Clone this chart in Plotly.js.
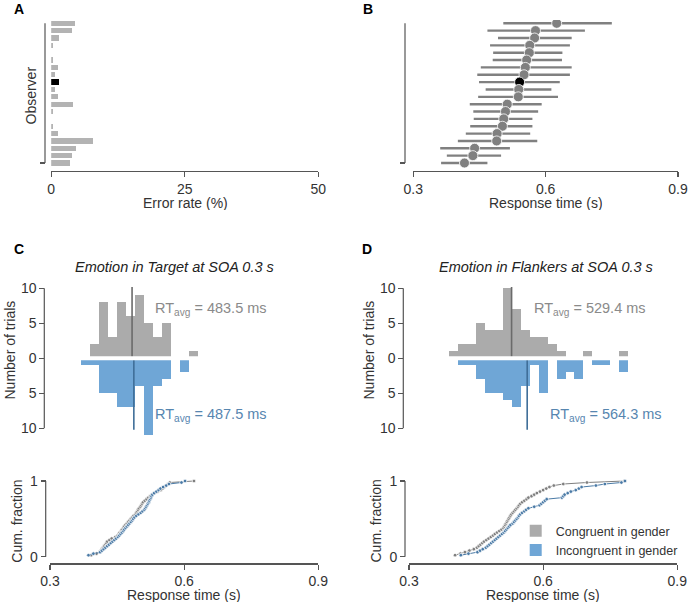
<!DOCTYPE html>
<html><head><meta charset="utf-8">
<script src="https://cdn.plot.ly/plotly-3.0.1.min.js"></script>
<style>html,body{margin:0;padding:0;background:#fff;overflow:hidden}#chart{width:690px;height:605px}</style>
</head><body><div id="chart"></div>
<script>
// ---------------- DATA ----------------
// Panel A / B: observers listed from top row to bottom row
const observers = [20,19,18,17,16,15,14,13,12,11,10,9,8,7,6,5,4,3,2,1];
const errorRate = [4.5,3.9,1.4,0.25,0,0.4,1.3,0.8,1.5,0.8,1.25,4.0,0.25,0,0.25,1.25,7.75,4.6,3.8,3.6];
const rtMean = [0.625,0.577,0.575,0.564,0.563,0.557,0.554,0.551,0.541,0.539,0.538,0.513,0.509,0.505,0.502,0.490,0.489,0.439,0.435,0.416];
const rtLow  = [0.504,0.468,0.492,0.474,0.481,0.480,0.453,0.445,0.449,0.464,0.447,0.428,0.436,0.437,0.429,0.419,0.401,0.361,0.376,0.363];
const rtHigh = [0.750,0.689,0.659,0.655,0.638,0.637,0.659,0.655,0.632,0.613,0.628,0.591,0.583,0.570,0.570,0.565,0.581,0.519,0.499,0.468];
const highlightObserver = 12;

// Panel C histograms (bin centres, s) and counts
const binsCcong = [0.40,0.42,0.44,0.46,0.48,0.50,0.52,0.54,0.56,0.58,0.60,0.62];
const countsCcong = [2,8,3,8,6,9,5,3,5,0,0,1];
const binsCinc = [0.38,0.40,0.42,0.44,0.46,0.48,0.50,0.52,0.54,0.56,0.58,0.60];
const countsCinc = [1,1,5,5,7,7,4,11,4,3,0,2];
const rtAvgC = [483.5, 487.5];

// Panel D histograms
const binsDcong = [0.40,0.42,0.44,0.46,0.48,0.50,0.52,0.54,0.56,0.58,0.60,0.62,0.64,0.66,0.68,0.70,0.72,0.74,0.76,0.78];
const countsDcong = [1,2,2,5,4,4,10,7,4,3,3,2,1,0,0,1,0,0,0,1];
const binsDinc = [0.42,0.44,0.46,0.48,0.50,0.52,0.54,0.56,0.58,0.60,0.62,0.64,0.66,0.68,0.70,0.72,0.74,0.76,0.78];
const countsDinc = [1,1,3,5,5,6,7,4,1,5,0,3,2,3,0,1,1,0,2];
const rtAvgD = [529.4, 564.3];

// Single-trial response times (sorted) for cumulative plots
const rtCcong = [0.392,0.404,0.411,0.414,0.416,0.419,0.421,0.424,0.426,0.428,0.433,0.438,0.446,0.451,0.454,0.456,0.459,0.461,0.464,0.466,0.469,0.472,0.475,0.478,0.481,0.484,0.487,0.491,0.493,0.495,0.497,0.499,0.502,0.504,0.506,0.508,0.512,0.516,0.520,0.524,0.528,0.534,0.541,0.548,0.552,0.556,0.560,0.564,0.568,0.622];
const rtCinc = [0.386,0.397,0.412,0.416,0.420,0.424,0.428,0.432,0.436,0.440,0.444,0.448,0.452,0.455,0.458,0.461,0.464,0.466,0.469,0.472,0.475,0.478,0.481,0.484,0.486,0.489,0.493,0.498,0.503,0.507,0.511,0.513,0.515,0.517,0.519,0.521,0.522,0.524,0.526,0.527,0.529,0.533,0.538,0.543,0.547,0.553,0.560,0.566,0.594,0.602];
const rtDcong = [0.403,0.415,0.425,0.435,0.445,0.452,0.456,0.460,0.464,0.468,0.473,0.478,0.483,0.488,0.492,0.497,0.502,0.507,0.511,0.513,0.515,0.517,0.519,0.521,0.523,0.525,0.527,0.529,0.532,0.535,0.538,0.541,0.544,0.546,0.549,0.553,0.558,0.563,0.567,0.574,0.580,0.586,0.593,0.600,0.607,0.614,0.624,0.645,0.698,0.782];
const rtDinc = [0.416,0.433,0.453,0.459,0.465,0.472,0.476,0.480,0.484,0.488,0.492,0.496,0.500,0.504,0.508,0.512,0.515,0.518,0.521,0.524,0.527,0.532,0.535,0.538,0.541,0.544,0.546,0.549,0.553,0.558,0.562,0.567,0.580,0.592,0.596,0.600,0.604,0.608,0.642,0.645,0.648,0.655,0.662,0.673,0.680,0.686,0.718,0.738,0.775,0.783];

const rtTicks = [0.3, 0.6, 0.9];
const rtTickText = ['0.3', '0.6', '0.9'];
const errTicks = [0, 25, 50];
const histTicks = [-10, -5, 0, 5, 10];
const histTickText = ['10', '5', '0', '5', '10'];

// ---------------- STYLE ----------------
const W = 690, H = 605;
const fx = p => p / W;
const fy = p => 1 - p / H;
const FONT = '"Liberation Sans", Arial, Helvetica, sans-serif';
const AX = '#555555';
const TXT = '#333333';
const GRAY_BAR = '#ababab';
const BLUE_BAR = '#6fa6d6';
const GRAY_LINE = '#6b6b6b';
const BLUE_LINE = '#3f6e98';
const GRAY_TXT = '#8a8a8a';
const BLUE_TXT = '#5786b0';

const ecdf = arr => arr.map((_, i) => (i + 1) / arr.length);
const neg = arr => arr.map(v => -v);

const traces = [];
// A
traces.push({
  type: 'bar', orientation: 'h', x: errorRate, y: observers, xaxis: 'x', yaxis: 'y',
  width: 0.72, showlegend: false, hoverinfo: 'skip',
  marker: { color: observers.map(o => o === highlightObserver ? '#000000' : '#b3b3b3'), line: { width: 0 } }
});
// B
traces.push({
  type: 'scatter', mode: 'markers', x: rtMean, y: observers, xaxis: 'x2', yaxis: 'y2',
  showlegend: false, hoverinfo: 'skip',
  error_x: { type: 'data', symmetric: false,
    array: rtHigh.map((h, i) => h - rtMean[i]),
    arrayminus: rtLow.map((l, i) => rtMean[i] - l),
    color: '#808080', thickness: 2.4, width: 0 },
  marker: { size: 10, color: observers.map(o => o === highlightObserver ? '#000000' : '#808080'),
    line: { color: '#ffffff', width: 0.8 } }
});
// C hist
traces.push({ type: 'bar', x: binsCcong, y: countsCcong, xaxis: 'x3', yaxis: 'y3', width: 0.02,
  marker: { color: GRAY_BAR, line: { width: 0 } }, showlegend: false, hoverinfo: 'skip' });
traces.push({ type: 'bar', x: binsCinc, y: neg(countsCinc), xaxis: 'x3', yaxis: 'y3', width: 0.02,
  marker: { color: BLUE_BAR, line: { width: 0 } }, showlegend: false, hoverinfo: 'skip' });
// D hist (used for legend)
traces.push({ type: 'bar', x: binsDcong, y: countsDcong, xaxis: 'x4', yaxis: 'y4', width: 0.02,
  name: 'Congruent in gender', legendrank: 1,
  marker: { color: GRAY_BAR, line: { width: 0 } }, showlegend: true, hoverinfo: 'skip' });
traces.push({ type: 'bar', x: binsDinc, y: neg(countsDinc), xaxis: 'x4', yaxis: 'y4', width: 0.02,
  name: 'Incongruent in gender', legendrank: 2,
  marker: { color: BLUE_BAR, line: { width: 0 } }, showlegend: true, hoverinfo: 'skip' });
// cumulative
const cumStyle = (color) => ({ mode: 'lines+markers', type: 'scatter', showlegend: false, hoverinfo: 'skip',
  line: { color: color, width: 1 }, marker: { size: 3.6, color: color, line: { color: '#ffffff', width: 0.7 } } });
traces.push(Object.assign(cumStyle('#7f7f7f'), { x: rtCcong, y: ecdf(rtCcong), xaxis: 'x5', yaxis: 'y5' }));
traces.push(Object.assign(cumStyle('#4a7aa6'), { x: rtCinc, y: ecdf(rtCinc), xaxis: 'x5', yaxis: 'y5' }));
traces.push(Object.assign(cumStyle('#7f7f7f'), { x: rtDcong, y: ecdf(rtDcong), xaxis: 'x6', yaxis: 'y6' }));
traces.push(Object.assign(cumStyle('#4a7aa6'), { x: rtDinc, y: ecdf(rtDinc), xaxis: 'x6', yaxis: 'y6' }));

const baseAx = {
  showgrid: false, zeroline: false, ticks: 'outside', ticklen: 5, tickwidth: 1.2, tickcolor: AX,
  linecolor: AX, linewidth: 1.2, tickfont: { size: 14, color: TXT, family: FONT }, fixedrange: true, automargin: false
};
const ax = o => Object.assign({}, baseAx, o);

// y scale helpers for panels A/B (observer rows)
const obsRange = [1 - (171 - 163) / 7.35, 20 + (23.3 - 20) / 7.35];
const histRange = [-(440 - 358.3) / 7, (358.3 - 280) / 7];
const cumRange = [-(563.3 - 556.7) / 75.7, 1 + (481 - 474) / 75.7];

const layout = {
  width: W, height: H, autosize: false,
  margin: { l: 0, r: 0, t: 0, b: 0, pad: 0, autoexpand: false },
  paper_bgcolor: '#ffffff', plot_bgcolor: 'rgba(0,0,0,0)',
  font: { family: FONT, size: 14, color: TXT },
  barmode: 'overlay', bargap: 0,
  showlegend: true,
  legend: { x: fx(515.7), y: fy(516), xanchor: 'left', yanchor: 'top', bgcolor: 'rgba(0,0,0,0)',
    font: { size: 12.5, color: TXT, family: FONT }, traceorder: 'normal', itemclick: false },
  xaxis: ax({ domain: [fx(51.2), fx(318.3)], range: [0, 50], anchor: 'y', showline: true, tickvals: errTicks }),
  yaxis: ax({ domain: [fy(171), fy(20)], range: obsRange, anchor: 'free', position: fx(45), showline: false,
    tickvals: [1], showticklabels: false }),
  xaxis2: ax({ domain: [fx(413.3), fx(678)], range: [0.3, 0.9], anchor: 'y2', showline: true, tickvals: rtTicks, ticktext: rtTickText }),
  yaxis2: ax({ domain: [fy(171), fy(20)], range: obsRange, anchor: 'free', position: fx(405), showline: false,
    tickvals: [1], showticklabels: false }),
  xaxis3: ax({ domain: [fx(50), fx(318.3)], range: [0.3, 0.9], anchor: 'y3', visible: false }),
  yaxis3: ax({ domain: [fy(440), fy(280)], range: histRange, anchor: 'free', position: fx(44.3), showline: false,
    tickvals: histTicks, ticktext: histTickText }),
  xaxis4: ax({ domain: [fx(409), fx(677.3)], range: [0.3, 0.9], anchor: 'y4', visible: false }),
  yaxis4: ax({ domain: [fy(440), fy(280)], range: histRange, anchor: 'free', position: fx(403.3), showline: false,
    tickvals: histTicks, ticktext: histTickText }),
  xaxis5: ax({ domain: [fx(50), fx(318.3)], range: [0.3, 0.9], anchor: 'y5', showline: true, tickvals: rtTicks, ticktext: rtTickText }),
  yaxis5: ax({ domain: [fy(563.3), fy(474)], range: cumRange, anchor: 'free', position: fx(45.7), showline: false,
    tickvals: [0, 1] }),
  xaxis6: ax({ domain: [fx(409), fx(677.3)], range: [0.3, 0.9], anchor: 'y6', showline: true, tickvals: rtTicks, ticktext: rtTickText }),
  yaxis6: ax({ domain: [fy(563.3), fy(474)], range: cumRange, anchor: 'free', position: fx(405), showline: false,
    tickvals: [0, 1] }),
  shapes: [], annotations: []
};

const vline = (xp, yref, y0, y1) => ({ type: 'line', xref: 'paper', yref: yref, x0: fx(xp), x1: fx(xp), y0: y0, y1: y1,
  line: { color: AX, width: 1.2 } });
layout.shapes.push(vline(45, 'y', 1, 20));
layout.shapes.push(vline(405, 'y2', 1, 20));
layout.shapes.push(vline(44.3, 'y3', -10, 10));
layout.shapes.push(vline(403.3, 'y4', -10, 10));
layout.shapes.push(vline(45.7, 'y5', 0, 1));
layout.shapes.push(vline(405, 'y6', 0, 1));

const meanLen = 10.2;
const meanShapes = (xr, yr, avgs) => [
  { type: 'line', xref: xr, yref: yr, x0: avgs[0] / 1000, x1: avgs[0] / 1000, y0: 0, y1: meanLen, line: { color: GRAY_LINE, width: 1.6 } },
  { type: 'line', xref: xr, yref: yr, x0: avgs[1] / 1000, x1: avgs[1] / 1000, y0: 0, y1: -meanLen, line: { color: BLUE_LINE, width: 1.6 } },
  { type: 'line', xref: xr, yref: yr, x0: 0.3, x1: 0.9, y0: 0, y1: 0, line: { color: '#ffffff', width: 4 } }
];
layout.shapes.push(...meanShapes('x3', 'y3', rtAvgC));
layout.shapes.push(...meanShapes('x4', 'y4', rtAvgD));

const ann = (text, xp, yp, opts) => Object.assign({ text: text, x: fx(xp), y: fy(yp), xref: 'paper', yref: 'paper',
  showarrow: false, xanchor: 'center', yanchor: 'middle', font: { size: 14, color: TXT, family: FONT } }, opts || {});

// panel letters
[['A', 18.5, 8.5], ['B', 368, 8.5], ['C', 18.5, 248.5], ['D', 367, 248.5]].forEach(l =>
  layout.annotations.push(ann('<b>' + l[0] + '</b>', l[1], l[2], { font: { size: 14, color: '#000', family: FONT } })));
// axis titles
layout.annotations.push(ann('Observer', 30, 95.5, { textangle: -90 }));
layout.annotations.push(ann('Error rate (%)', 185, 202.5, { height: 14 }));
layout.annotations.push(ann('Response time (s)', 545.7, 202.5, { height: 14 }));
layout.annotations.push(ann('Number of trials', 9.5, 350, { textangle: -90 }));
layout.annotations.push(ann('Number of trials', 368.5, 350, { textangle: -90 }));
layout.annotations.push(ann('Cum. fraction', 16.7, 521, { textangle: -90 }));
layout.annotations.push(ann('Cum. fraction', 375.5, 521, { textangle: -90 }));
layout.annotations.push(ann('Response time (s)', 184, 594.5, { height: 14 }));
layout.annotations.push(ann('Response time (s)', 543, 594.5, { height: 14 }));
// subplot titles
layout.annotations.push(ann('<i>Emotion in Target at SOA 0.3 s</i>', 73.3, 267.3, { xanchor: 'left', font: { size: 14.5, color: '#222', family: FONT } }));
layout.annotations.push(ann('<i>Emotion in Flankers at SOA 0.3 s</i>', 436.7, 267.3, { xanchor: 'left', font: { size: 14.5, color: '#222', family: FONT } }));
// RT avg labels
const rtLabel = v => 'RT<sub>avg</sub> = ' + v.toFixed(1) + ' ms';
layout.annotations.push(ann(rtLabel(rtAvgC[0]), 152.5, 309, { xanchor: 'left', font: { size: 14.5, color: GRAY_TXT, family: FONT } }));
layout.annotations.push(ann(rtLabel(rtAvgC[1]), 152.5, 414.5, { xanchor: 'left', font: { size: 14.5, color: BLUE_TXT, family: FONT } }));
layout.annotations.push(ann(rtLabel(rtAvgD[0]), 532, 309, { xanchor: 'left', font: { size: 14.5, color: GRAY_TXT, family: FONT } }));
layout.annotations.push(ann(rtLabel(rtAvgD[1]), 547.5, 414.5, { xanchor: 'left', font: { size: 14.5, color: BLUE_TXT, family: FONT } }));

Plotly.newPlot('chart', traces, layout, { displayModeBar: false, staticPlot: true });
</script>
</body></html>
